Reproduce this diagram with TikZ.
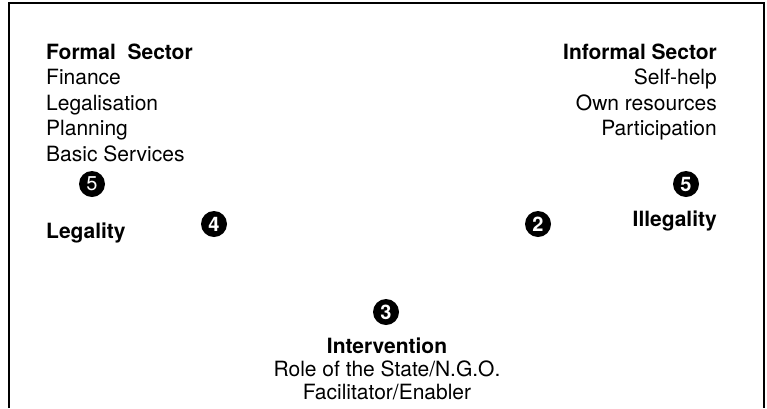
\documentclass[tikz,border=0pt]{standalone}
\usepackage{fontspec}
\setmainfont{TeX Gyre Heros}
\tikzset{
  item/.style={inner sep=0pt, font=\fontsize{21}{25}\selectfont},
  head/.style={item, font=\fontsize{21}{25}\selectfont\bfseries},
  numdot/.style={circle, fill=black, text=white, inner sep=0pt,
    minimum size=26pt, font=\fontsize{20}{20}\selectfont\bfseries}
}
\begin{document}
\begin{tikzpicture}[x=1pt, y=-1pt]
  \useasboundingbox (0,0) rectangle (767,408);

  % Frame (open at the bottom)
  \draw[line width=2.6pt] (9,408) -- (9,3) -- (764,3) -- (764,408);

  % Formal sector (left)
  \node[head, anchor=base west] (formal) at (46,59) {Formal\ \ Sector};
  \foreach \txt [count=\i] in {Finance, Legalisation, Planning, Basic Services}
    \node[item, anchor=base west] (formal\i) at (46,{59+\i*25.6}) {\txt};

  % Informal sector (right)
  \node[head, anchor=base east] (informal) at (717,59) {Informal Sector};
  \foreach \txt [count=\i] in {Self-help, Own resources, Participation}
    \node[item, anchor=base east] (informal\i) at (717,{59+\i*25.6}) {\txt};

  % Legality / Illegality
  \node[head, anchor=base west] (legal) at (46,238) {Legality};
  \node[head, anchor=base east] (illegal) at (717,226) {Illegality};

  % Intervention (bottom)
  \node[head, anchor=base] (interv) at (387,353) {Intervention};
  \node[item, anchor=base] (interv1) at (387,376) {Role of the State/N.G.O.};
  \node[item, anchor=base] (interv2) at (387,399) {Facilitator/Enabler};

  % Numbered dots
  \node[numdot, font=\fontsize{20}{20}\selectfont] (dotL) at (92,184) {5};
  \node[numdot] (dotR) at (686,184) {5};
  \node[numdot] (dotFour) at (214,224) {4};
  \node[numdot] (dotTwo) at (538,224) {2};
  \node[numdot] (dotThree) at (386,312) {3};
\end{tikzpicture}
\end{document}
